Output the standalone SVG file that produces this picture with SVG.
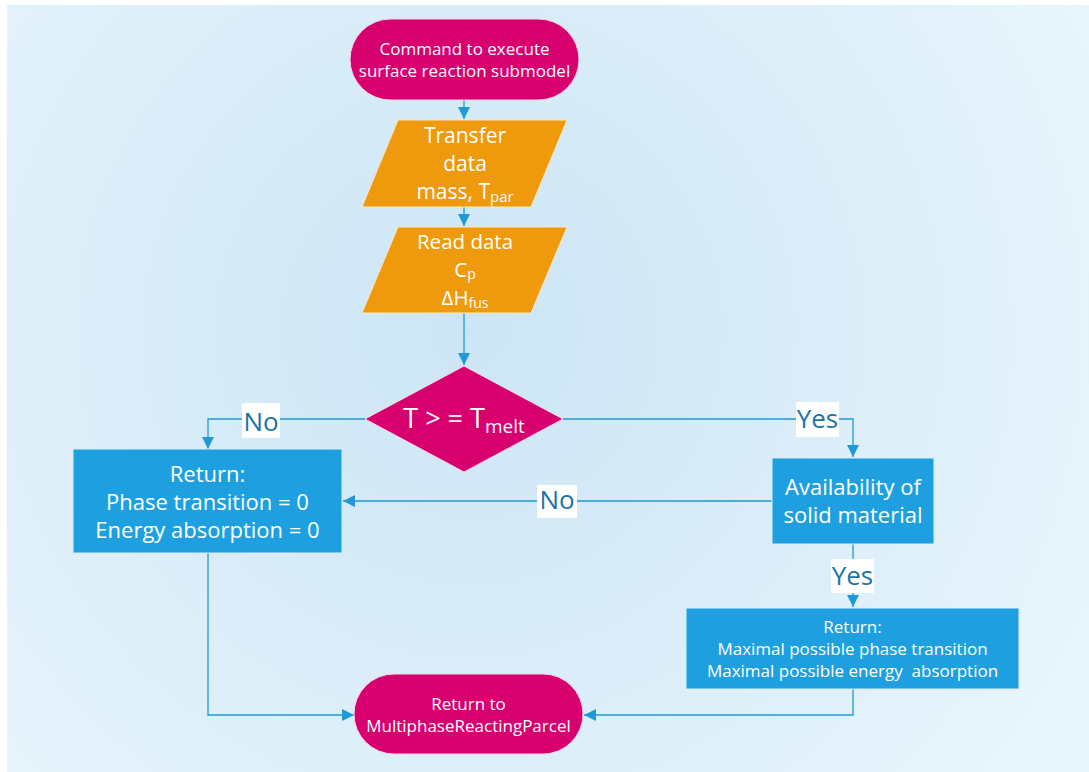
<svg xmlns="http://www.w3.org/2000/svg" width="1089" height="772" viewBox="0 0 1089 772">
<defs>
<radialGradient id="bg" cx="470" cy="330" r="700" gradientUnits="userSpaceOnUse">
<stop offset="0" stop-color="#cce5f5"/>
<stop offset="1" stop-color="#e8f5fc"/>
</radialGradient>
<marker id="arr" viewBox="0 0 10 10" refX="10" refY="5" markerWidth="12" markerHeight="12" markerUnits="userSpaceOnUse" orient="auto">
<path d="M0,0 L10,5 L0,10 z" fill="#1f9ad6"/>
</marker>
<style>
.t{font-family:"Open Sans","Noto Sans","DejaVu Sans",sans-serif;fill:#ffffff;text-anchor:middle;white-space:pre}
.lbl{font-family:"Open Sans","Noto Sans","DejaVu Sans",sans-serif;fill:#1b74a6;text-anchor:middle;font-size:26px}
.mag{fill:#d8006f;stroke:#f2d6e6;stroke-width:1}
.org{fill:#ef990c;stroke:#f8e6c8;stroke-width:1}
.blu{fill:#1ea0e0;stroke:#d8eef9;stroke-width:1}
.c{fill:none;stroke:#1f9ad6;stroke-width:1.3}
.lb{fill:#ffffff}
</style>
</defs>
<rect x="0" y="0" width="1089" height="772" fill="#ffffff"/>
<rect x="7" y="5" width="1082" height="767" fill="url(#bg)"/>

<g id="connectors">
<path class="c" d="M464,100 L464,119" marker-end="url(#arr)"/>
<path class="c" d="M464,207 L464,226" marker-end="url(#arr)"/>
<path class="c" d="M464,313 L464,365" marker-end="url(#arr)"/>
<path class="c" d="M365,419 L208,419 L208,449" marker-end="url(#arr)"/>
<path class="c" d="M563,419 L853,419 L853,457" marker-end="url(#arr)"/>
<path class="c" d="M772,501 L343,501" marker-end="url(#arr)"/>
<path class="c" d="M853,544 L853,607" marker-end="url(#arr)"/>
<path class="c" d="M208,553 L208,715 L354,715" marker-end="url(#arr)"/>
<path class="c" d="M853,689 L853,715 L584,715" marker-end="url(#arr)"/>
<rect class="lb" x="242" y="403" width="38" height="35"/>
<text class="lbl" x="261" y="431">No</text>
<rect class="lb" x="796" y="402" width="43" height="35"/>
<text class="lbl" x="817.5" y="428">Yes</text>
<rect class="lb" x="537" y="485" width="40" height="33"/>
<text class="lbl" x="557" y="509">No</text>
<rect class="lb" x="831" y="559" width="43" height="34"/>
<text class="lbl" x="852.5" y="585">Yes</text>
</g>

<g id="start">
<rect class="mag" x="350" y="19" width="229" height="81" rx="40.5"/>
<text class="t" x="464.5" y="55" font-size="17">Command to execute</text>
<text class="t" x="464.5" y="77" font-size="17">surface reaction submodel</text>
</g>

<g id="transfer">
<polygon class="org" points="398,120 567,120 531,207 362,207"/>
<text class="t" x="465" y="143" font-size="21">Transfer</text>
<text class="t" x="465" y="171" font-size="21">data</text>
<text class="t" x="465" y="199" font-size="21">mass, T<tspan font-size="15" dy="3">par</tspan></text>
</g>

<g id="read">
<polygon class="org" points="398,227 567,227 531,313 362,313"/>
<text class="t" x="465" y="249" font-size="20.5">Read data</text>
<text class="t" x="465" y="277" font-size="20.5">C<tspan font-size="14" dy="2">p</tspan></text>
<text class="t" x="465" y="305" font-size="20.5">ΔH<tspan font-size="14" dy="3">fus</tspan></text>
</g>

<g id="decision">
<polygon class="mag" points="464,366 563,419 464,472 365,419"/>
<text class="t" x="464" y="428" font-size="27">T &gt; = T<tspan font-size="19" dy="5">melt</tspan></text>
</g>

<g id="return-zero">
<rect class="blu" x="73" y="449" width="269" height="104"/>
<text class="t" x="207.5" y="482" font-size="22">Return:</text>
<text class="t" x="207.5" y="510" font-size="22">Phase transition = 0</text>
<text class="t" x="207.5" y="538" font-size="22">Energy absorption = 0</text>
</g>

<g id="availability">
<rect class="blu" x="772" y="458" width="162" height="86"/>
<text class="t" x="853" y="495" font-size="22">Availability of</text>
<text class="t" x="853" y="523" font-size="22">solid material</text>
</g>

<g id="return-max">
<rect class="blu" x="686" y="608" width="333" height="81"/>
<text class="t" x="852.5" y="633" font-size="17">Return:</text>
<text class="t" x="852.5" y="655" font-size="17">Maximal possible phase transition</text>
<text class="t" x="852.5" y="677" font-size="17">Maximal possible energy  absorption</text>
</g>

<g id="end">
<rect class="mag" x="354" y="674" width="229" height="80" rx="40"/>
<text class="t" x="468.5" y="710" font-size="17">Return to</text>
<text class="t" x="468.5" y="732" font-size="17">MultiphaseReactingParcel</text>
</g>
</svg>
